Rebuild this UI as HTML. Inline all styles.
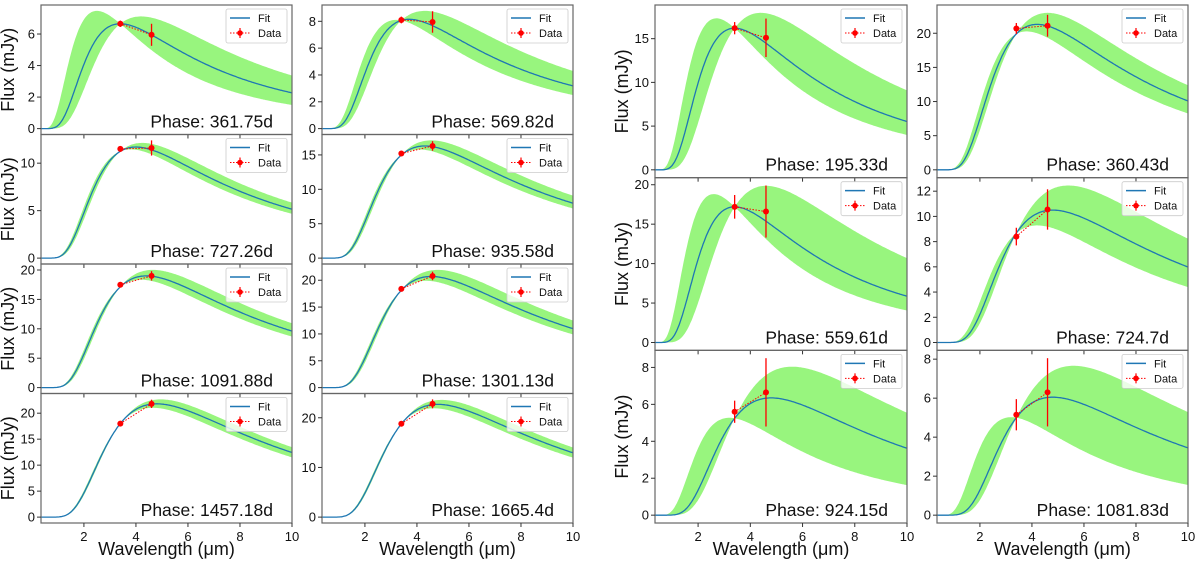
<!DOCTYPE html>
<html><head><meta charset="utf-8"><style>
html,body{margin:0;padding:0;background:#fff;}
svg{display:block;font-family:"Liberation Sans","DejaVu Sans",sans-serif;}
</style></head><body>
<svg id="chart" width="1200" height="562" viewBox="0 0 1200 562" xmlns="http://www.w3.org/2000/svg"></svg>
<script>
// ---- data ----
const phases = ["361.75","569.82","727.26","935.58","1091.88","1301.13","1457.18","1665.4",
                "195.33","360.43","559.61","724.7","924.15","1081.83"];
const fitPeakWl =   [3.4, 3.7, 4.0, 4.3, 4.4, 4.55,4.8, 4.8, 3.4, 4.2, 3.4, 4.8, 4.8, 4.8];
const fitPeakFlux = [6.65,8.15,11.7,16.3,19.0,20.7,21.8,22.7,16.2,21.3,17.2,10.5,6.35,6.05];
const hotPeakWl =   [2.5, 3.2, 3.8, 4.1, 4.2, 4.35,4.65,4.65,2.7, 3.8, 2.6, 4.2, 3.2, 3.2];
const coldPeakWl =  [4.2, 4.3, 4.25,4.55,4.65,4.8, 4.95,4.95,4.4, 4.6, 4.6, 5.4, 5.6, 5.6];
const dataWl = [3.4, 4.6];
const data1Flux = [6.65,8.1,11.5,15.2,17.5,18.4,18.0,18.8,16.2,20.7,17.2,8.4,5.6,5.15];
const data1Err =  [0.2,0.25,0.3,0.2,0.2,0.2,0.2,0.2,0.7,0.8,1.5,0.7,0.6,0.8];
const data2Flux = [5.95,7.95,11.6,16.3,19.0,20.8,21.8,22.8,15.1,21.1,16.6,10.55,6.65,6.3];
const data2Err =  [0.7,0.8,0.8,0.7,0.8,0.8,0.8,0.9,2.2,1.6,3.3,1.6,1.85,1.75];
const yTickStep = [2,2,5,5,5,5,5,10,5,5,5,2,2,2];
const xTicks = [2,4,6,8,10];
const xMin = 0.35, xMax = 10;
const slopeN = 3.25;

// ---- layout ----
const panels = [];
const leftCols=[[41,292],[322,573]], rightCols=[[655,907],[937,1188]];
for(let r=0;r<4;r++)for(let c=0;c<2;c++){
  panels.push({x0:leftCols[c][0],x1:leftCols[c][1],y0:5+r*129.5,y1:5+(r+1)*129.5,first:c==0,bottom:r==3});
}
for(let r=0;r<3;r++)for(let c=0;c<2;c++){
  panels.push({x0:rightCols[c][0],x1:rightCols[c][1],y0:5+r*172.67,y1:5+(r+1)*172.67,first:c==0,bottom:r==2});
}
const NS="http://www.w3.org/2000/svg";
const svg=document.getElementById('chart');
function mk(tag,attrs,parent){const e=document.createElementNS(NS,tag);for(const k in attrs)e.setAttribute(k,attrs[k]);(parent||svg).appendChild(e);return e;}
let xc=3; for(let k=0;k<50;k++) xc=slopeN*(1-Math.exp(-xc));
function bb(l,lp){return Math.pow(l,-slopeN)/(Math.exp(xc*lp/l)-1);}

panels.forEach((p,i)=>{
  const g=mk('g',{});
  
  
  const lp=fitPeakWl[i], pf=fitPeakFlux[i];
  const fit=l=>pf*bb(l,lp)/bb(lp,lp);
  const pin=dataWl[0], fpin=fit(pin);
  const hot=l=>fpin*bb(l,hotPeakWl[i])/bb(pin,hotPeakWl[i]);
  const cold=l=>fpin*bb(l,coldPeakWl[i])/bb(pin,coldPeakWl[i]);
  const N=220, xs=[];
  for(let k=0;k<=N;k++)xs.push(xMin+(xMax-xMin)*k/N);
  let top=Math.max(data1Flux[i]+data1Err[i],data2Flux[i]+data2Err[i]);
  xs.forEach(l=>{top=Math.max(top,hot(l),cold(l),fit(l));});
  const yLo=-0.05*top, yHi=top*1.05;
  const X=v=>p.x0+(v-xMin)/(xMax-xMin)*(p.x1-p.x0);
  const Y=v=>p.y1-(v-yLo)/(yHi-yLo)*(p.y1-p.y0);
  const cid='clip'+i;
  const cp=mk('clipPath',{id:cid},g);
  mk('rect',{x:p.x0,y:p.y0,width:p.x1-p.x0,height:p.y1-p.y0},cp);
  let up=xs.map(l=>X(l).toFixed(1)+','+Y(Math.max(hot(l),cold(l),fit(l))).toFixed(1));
  let dn=xs.slice().reverse().map(l=>X(l).toFixed(1)+','+Y(Math.min(hot(l),cold(l),fit(l))).toFixed(1));
  const band=mk('polygon',{points:up.concat(dn).join(' '),fill:'#98f57e','clip-path':`url(#${cid})`},g);
  
  
  const fl=mk('polyline',{points:xs.map(l=>X(l).toFixed(1)+','+Y(fit(l)).toFixed(1)).join(' '),fill:'none',stroke:'#1f77b4','stroke-width':1.3,'clip-path':`url(#${cid})`},g);
  
  
  const dl=mk('line',{x1:X(dataWl[0]),y1:Y(data1Flux[i]),x2:X(dataWl[1]),y2:Y(data2Flux[i]),stroke:'#f00','stroke-width':1,'stroke-dasharray':'1.5,1.5'},g);
  
  
  [[data1Flux[i],data1Err[i]],[data2Flux[i],data2Err[i]]].forEach((d,j)=>{
    const eb=mk('line',{x1:X(dataWl[j]),x2:X(dataWl[j]),y1:Y(d[0]-d[1]),y2:Y(d[0]+d[1]),stroke:'#f00','stroke-width':1.3},g);
    
    
    const pt=mk('circle',{cx:X(dataWl[j]),cy:Y(d[0]),r:3,fill:'#f00'},g);
    
    
  });
  const fr=mk('rect',{x:p.x0,y:p.y0,width:p.x1-p.x0,height:p.y1-p.y0,fill:'none',stroke:'#666','stroke-width':1.2},g);
  
  
  for(let v=0;v<=yHi;v+=yTickStep[i]){
    const y=Y(v);
    mk('line',{x1:p.x0-4,x2:p.x0,y1:y,y2:y,stroke:'#333','stroke-width':1},g);
    const t=mk('text',{x:p.x0-6,y:y+4.5,'text-anchor':'end','font-size':13,fill:'#111'},g);
    t.textContent=v;
    
    
  }
  xTicks.forEach(v=>{
    const x=X(v);
    mk('line',{x1:x,x2:x,y1:p.y1,y2:p.y1+4,stroke:'#333','stroke-width':1},g);
    if(p.bottom){
      const t=mk('text',{x:x,y:p.y1+18,'text-anchor':'middle','font-size':13,fill:'#111'},g);
      t.textContent=v;
      
      
    }
  });
  if(p.bottom){
    const t=mk('text',{x:(p.x0+p.x1)/2,y:p.y1+32,'text-anchor':'middle','font-size':18,fill:'#111'},g);
    t.textContent='Wavelength (μm)';
    
    
  }
  if(p.first){
    const cy=(p.y0+p.y1)/2, cx=p.x0-27;
    const t=mk('text',{x:cx,y:cy,'text-anchor':'middle','font-size':18,fill:'#111',transform:`rotate(-90 ${cx} ${cy})`},g);
    t.textContent='Flux (mJy)';
    
    
  }
  const ph=mk('text',{x:p.x1-19,y:p.y1-7,'text-anchor':'end','font-size':17.5,fill:'#111'},g);
  ph.textContent='Phase: '+phases[i]+'d';
  
  
  const lg=mk('g',{},g);
  
  
  const lx=p.x1-66, ly=p.y0+4;
  mk('rect',{x:lx,y:ly,width:61,height:34,rx:2,fill:'#fff','fill-opacity':0.8,stroke:'#ccc','stroke-width':0.8},lg);
  mk('line',{x1:lx+4,x2:lx+24,y1:ly+9,y2:ly+9,stroke:'#1f77b4','stroke-width':1.5},lg);
  const t1=mk('text',{x:lx+32,y:ly+13,'font-size':11,fill:'#111'},lg);
  t1.textContent='Fit';
  
  
  mk('line',{x1:lx+4,x2:lx+24,y1:ly+24,y2:ly+24,stroke:'#f00','stroke-width':1,'stroke-dasharray':'1.5,1.5'},lg);
  mk('line',{x1:lx+14,x2:lx+14,y1:ly+19,y2:ly+29,stroke:'#f00','stroke-width':1.2},lg);
  mk('circle',{cx:lx+14,cy:ly+24,r:2.8,fill:'#f00'},lg);
  const t2=mk('text',{x:lx+32,y:ly+28,'font-size':11,fill:'#111'},lg);
  t2.textContent='Data';
  
  
});
</script>
</body></html>
